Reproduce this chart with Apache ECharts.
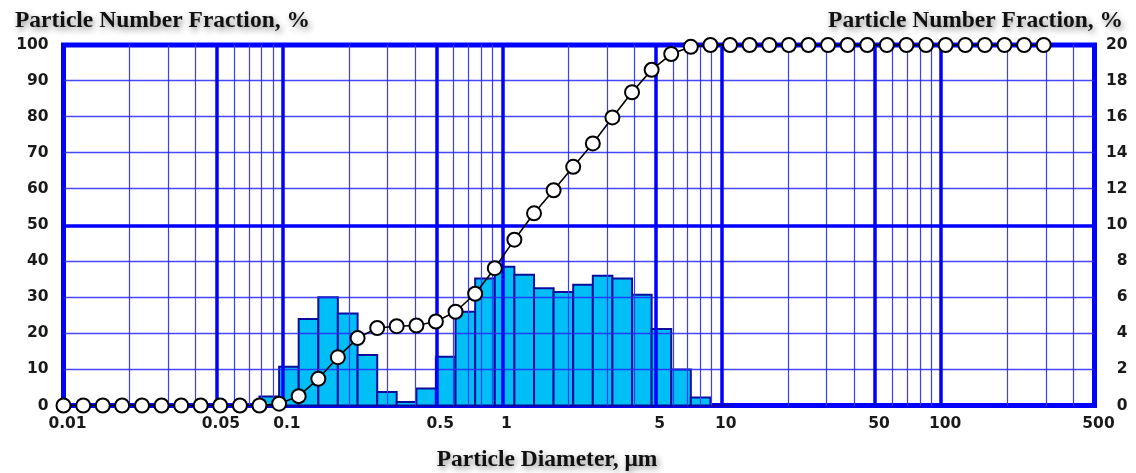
<!DOCTYPE html>
<html>
<head>
<meta charset="utf-8">
<script src="https://cdn.jsdelivr.net/npm/echarts@6.0.0/dist/echarts.min.js"></script>
<style>
  html, body { margin: 0; padding: 0; background: #ffffff; }
  #chart { width: 1136px; height: 473px; }
</style>
</head>
<body>
<div id="chart"></div>
<script>
// ---- data ----
const cumDiameter = [0.0100, 0.0123, 0.0151, 0.0185, 0.0228, 0.0280, 0.0344, 0.0422, 0.0518, 0.0637,
  0.0782, 0.0961, 0.118, 0.145, 0.178, 0.219, 0.269, 0.330, 0.406, 0.498,
  0.612, 0.752, 0.924, 1.135, 1.395, 1.713, 2.104, 2.585, 3.175, 3.901,
  4.792, 5.886, 7.231, 8.882, 10.91, 13.40, 16.47, 20.23, 24.85, 30.52,
  37.50, 46.06, 56.58, 69.50, 85.39, 104.9, 128.9, 158.3, 194.5, 238.9, 293.4];
const cumFraction = [0, 0, 0, 0, 0, 0, 0, 0, 0, 0,
  0, 0.5, 2.6, 7.4, 13.4, 18.7, 21.5, 22.0, 22.2, 23.3,
  26.0, 31.0, 38.1, 46.0, 53.3, 59.7, 66.2, 72.7, 79.9, 86.9,
  93.1, 97.5, 99.5, 100, 100, 100, 100, 100, 100, 100,
  100, 100, 100, 100, 100, 100, 100, 100, 100, 100, 100];

const binLower = [0.0782, 0.0961, 0.118, 0.145, 0.178, 0.219, 0.269, 0.330, 0.406, 0.498,
  0.612, 0.752, 0.924, 1.135, 1.395, 1.713, 2.104, 2.585, 3.175, 3.901, 4.792, 5.886, 7.231, 8.882];
const binUpper = [0.0961, 0.118, 0.145, 0.178, 0.219, 0.269, 0.330, 0.406, 0.498, 0.612,
  0.752, 0.924, 1.135, 1.395, 1.713, 2.104, 2.585, 3.175, 3.901, 4.792, 5.886, 7.231, 8.882, 10.91];
const binFraction = [0.5, 2.15, 4.8, 6.0, 5.1, 2.8, 0.75, 0.2, 0.95, 2.7,
  5.2, 7.05, 7.7, 7.25, 6.5, 6.3, 6.7, 7.2, 7.05, 6.15, 4.25, 2.0, 0.45, 0];

const xTickValues = [0.01, 0.05, 0.1, 0.5, 1, 5, 10, 50, 100, 500];
const xTickLabels = ['0.01', '0.05', '0.1', '0.5', '1', '5', '10', '50', '100', '500'];
const xMajorGrid = [0.05, 0.1, 0.5, 1, 5, 10, 50, 100];
const xMinorGrid = [0.02, 0.03, 0.04, 0.06, 0.07, 0.08, 0.09,
  0.2, 0.3, 0.4, 0.6, 0.7, 0.8, 0.9,
  2, 3, 4, 6, 7, 8, 9,
  20, 30, 40, 60, 70, 80, 90,
  200, 300, 400];
const yMajorGrid = [50];
const yMinorGrid = [10, 20, 30, 40, 60, 70, 80, 90];

const titleLeft = 'Particle Number Fraction, %';
const titleRight = 'Particle Number Fraction, %';
const titleBottom = 'Particle Diameter, \u03bcm';

// ---- chart ----
const BLUE = '#0000ff';
const MINOR = '#3c3cff';
const labelFont = { fontFamily: 'DejaVu Sans', fontWeight: 'bold', fontSize: 15.5, color: '#1a1a1a' };
const titleStyle = {
  fontFamily: 'Liberation Serif', fontWeight: 'bold', fontSize: 23.5, color: '#111',
  textShadowColor: 'rgba(0,0,0,0.45)', textShadowBlur: 6, textShadowOffsetX: 2, textShadowOffsetY: 3
};

const chart = echarts.init(document.getElementById('chart'), null, { renderer: 'canvas' });

const histData = binLower.map((lo, i) => [lo, binUpper[i], binFraction[i]]);
const cumData = cumDiameter.map((d, i) => [d, cumFraction[i]]);

const option = {
  animation: false,
  backgroundColor: '#ffffff',
  title: [
    { text: titleLeft, left: 10, top: 4, textStyle: titleStyle },
    { text: titleRight, right: 8, top: 4, textStyle: titleStyle },
    { text: titleBottom, left: 542, top: 443, textAlign: 'center', textStyle: titleStyle }
  ],
  grid: {
    left: 63.5, right: 41.5, top: 45, bottom: 67.5,
    show: true, borderColor: BLUE, borderWidth: 5, backgroundColor: 'transparent'
  },
  xAxis: {
    type: 'log', logBase: 10, min: 0.01, max: 500,
    axisLine: { show: false }, axisTick: { show: false },
    splitLine: { show: false }, minorSplitLine: { show: false },
    axisLabel: Object.assign({
      margin: 10,
      customValues: xTickValues,
      padding: [0, 0, 0, 8],
      formatter: function (v) {
        for (let i = 0; i < xTickValues.length; i++) {
          if (Math.abs(v - xTickValues[i]) / xTickValues[i] < 1e-6) return xTickLabels[i];
        }
        return '';
      }
    }, labelFont)
  },
  yAxis: [
    {
      type: 'value', min: 0, max: 100, interval: 10, position: 'left',
      axisLine: { show: false }, axisTick: { show: false },
      splitLine: { show: false },
      axisLabel: Object.assign({ margin: 15 }, labelFont)
    },
    {
      type: 'value', min: 0, max: 20, interval: 2, position: 'right',
      axisLine: { show: false }, axisTick: { show: false }, splitLine: { show: false },
      axisLabel: Object.assign({ margin: 33, align: 'right' }, labelFont)
    }
  ],
  series: [
    {
      name: 'gridMinorX', type: 'line', data: [], z: 1, silent: true,
      markLine: {
        silent: true, symbol: ['none', 'none'], label: { show: false }, animation: false,
        lineStyle: { color: MINOR, width: 1.2, type: 'solid' },
        data: xMinorGrid.map(v => ({ xAxis: v }))
      }
    },
    {
      name: 'gridMinorY', type: 'line', data: [], z: 1, silent: true,
      markLine: {
        silent: true, symbol: ['none', 'none'], label: { show: false }, animation: false,
        lineStyle: { color: '#2828ff', width: 1.4, type: 'solid', opacity: 0.85 },
        data: yMinorGrid.map(v => ({ yAxis: v + 0.14 }))
      }
    },
    {
      name: 'gridMajor', type: 'line', data: [], z: 1, silent: true,
      markLine: {
        silent: true, symbol: ['none', 'none'], label: { show: false }, animation: false,
        lineStyle: { color: BLUE, width: 3.5, type: 'solid' },
        data: xMajorGrid.map(v => ({ xAxis: v })).concat(yMajorGrid.map(v => ({ yAxis: v })))
      }
    },
    {
      name: 'Fraction', type: 'custom', yAxisIndex: 1, z: 3,
      data: histData,
      encode: { x: [0, 1], y: 2 },
      renderItem: function (params, api) {
        const p0 = api.coord([api.value(0), api.value(2)]);
        const p1 = api.coord([api.value(1), 0]);
        return {
          type: 'rect',
          shape: { x: p0[0], y: p0[1], width: p1[0] - p0[0], height: p1[1] - p0[1] },
          style: { fill: '#00bff6', stroke: '#0c0c9c', lineWidth: 2 }
        };
      }
    },
    {
      name: 'Cumulative', type: 'line', yAxisIndex: 0, z: 5,
      data: cumData,
      symbol: 'circle', symbolSize: 14,
      lineStyle: { color: '#000', width: 1.6 },
      itemStyle: { color: '#ffffff', borderColor: '#000', borderWidth: 2 }
    }
  ]
};
chart.setOption(option);
</script>
</body>
</html>
